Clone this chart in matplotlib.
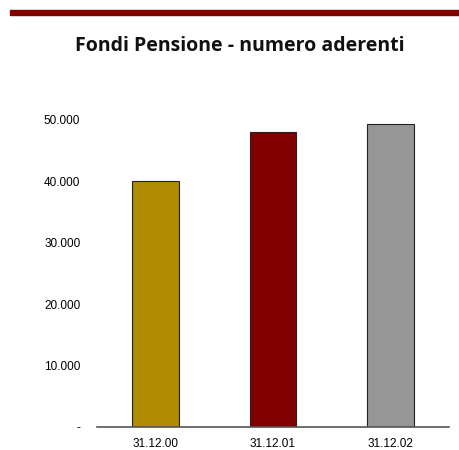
import matplotlib
matplotlib.use("Agg")
import matplotlib.pyplot as plt
from matplotlib.ticker import FuncFormatter
from matplotlib.patches import Rectangle

categories = ["31.12.00", "31.12.01", "31.12.02"]
aderenti = [40000, 48000, 49300]
colors = ["#B08C00", "#800000", "#969696"]
yticks = [0, 10000, 20000, 30000, 40000, 50000]


def fmt_thousands(v, pos):
    if v == 0:
        return "-"
    return "{:,.0f}".format(v).replace(",", ".")


fig = plt.figure(figsize=(4.6, 4.5), dpi=100)

# red band at the top
fig.patches.append(Rectangle((10 / 460, 1 - 15 / 450), 450 / 460, 5 / 450,
                             transform=fig.transFigure, color="#800000", zorder=0))

fig.text(240 / 460, 1 - 46 / 450, "Fondi Pensione - numero aderenti",
         ha="center", va="center", fontsize=14, fontweight="bold",
         family=["Open Sans", "DejaVu Sans"], color="#111111")

ax = fig.add_axes([97 / 460, 1 - 427 / 450, 352 / 460, 307 / 450])
x = [i + 0.5 for i in range(len(categories))]
ax.bar(x, aderenti, width=0.4, color=colors, edgecolor="#222222", linewidth=0.8)

ax.set_xlim(0, 3)
ax.set_ylim(0, 50000)
ax.set_xticks(x)
ax.set_xticklabels(categories)
ax.set_yticks(yticks)
ax.yaxis.set_major_formatter(FuncFormatter(fmt_thousands))

for s in ["top", "right", "left"]:
    ax.spines[s].set_visible(False)
ax.spines["bottom"].set_color("#555555")
ax.spines["bottom"].set_linewidth(1.2)
ax.tick_params(axis="both", length=0, labelsize=8.5)
ax.tick_params(axis="y", pad=12)
ax.tick_params(axis="x", pad=8)
for lbl in ax.get_xticklabels() + ax.get_yticklabels():
    lbl.set_family("Liberation Sans")

fig.savefig("out.png", dpi=100)
